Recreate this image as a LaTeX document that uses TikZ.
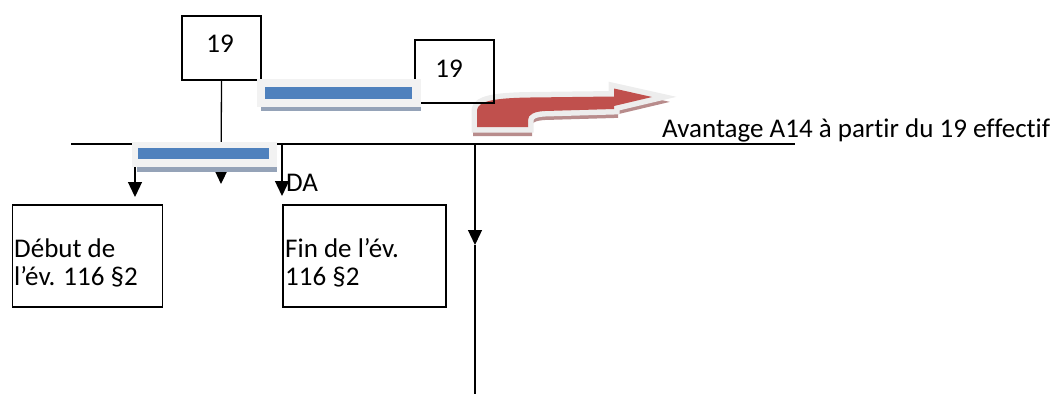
\documentclass[tikz,border=0pt]{standalone}
\usepackage{fontspec}
\setmainfont[Ligatures={NoCommon}]{Carlito}
\usetikzlibrary{arrows.meta}
\definecolor{barblue}{HTML}{4F81BD}
\definecolor{barframe}{HTML}{F2F2F2}
\definecolor{barshadow}{HTML}{95A3B8}
\definecolor{arrred}{HTML}{C0504D}
\definecolor{arrglow}{HTML}{EDEDED}
\definecolor{arrshadow}{HTML}{B88C8C}
\tikzset{
  ln/.style={line width=1.3pt, black},
  arr/.style={ln, -{Triangle[length=15pt,width=14pt]}},
  boxst/.style={draw=black, line width=1.3pt, inner sep=0pt},
  txt/.style={inner sep=0pt, font=\fontsize{27}{29}\selectfont},
}
\begin{document}
\begin{tikzpicture}[x=1pt,y=-1pt]
\useasboundingbox (0,0) rectangle (1064,394);
% main horizontal line
\coordinate (mainL) at (71,144);
\coordinate (mainR) at (795,144);
\draw[ln] (mainL) -- (mainR);

% top box 19 and its connector
\node[boxst, minimum width=79pt, minimum height=64pt] (boxA) at (221.5,48) {};
\node[txt, anchor=base] (boxAt) at (220,52) {19};
\coordinate (midTip) at (221,184);
\draw[arr] (boxA.south) -- (midTip);

% left arrow (under the bar)
\coordinate (leftTop) at (135,150);
\coordinate (leftTip) at (135,197);
\draw[arr] (leftTop) -- (leftTip);

% lower bar
\fill[barshadow] (137,147) rectangle (277,172);
\fill[barframe] (132,142) rectangle (277,167);
\fill[barblue] (138,148) rectangle (269,159);

% right arrow
\coordinate (rightTop) at (282,144);
\coordinate (rightTip) at (282,196);
\draw[arr] (rightTop) -- (rightTip);
\node[txt, anchor=base west] (da) at (286,191) {DA};

% lower boxes
\node[boxst, minimum width=150pt, minimum height=102pt] (boxDeb) at (87.5,256) {};
\node[txt, anchor=base west] (deb1) at (14,257) {Début de};
\node[txt, anchor=base west] (deb2) at (14,285) {l’év. 116 §2};
\node[boxst, minimum width=163pt, minimum height=102pt] (boxFin) at (364.5,256) {};
\node[txt, anchor=base west] (fin1) at (285,257) {Fin de l’év.};
\node[txt, anchor=base west] (fin2) at (285,285) {116 §2};

% long vertical line with arrow
\coordinate (vTop) at (475,144);
\coordinate (vMid) at (475,245);
\coordinate (vBot) at (475,394);
\draw[arr] (vTop) -- (vMid);
\draw[ln] (vMid) -- (vBot);

% red curved arrow: shadow, glow, body
\def\redpath{(477,127) -- (477,110) .. controls (478,101) and (495,98) .. (530,97.5) -- (614,96.5) -- (614,88.5) -- (652,97) -- (614,106) -- (614,109) -- (545,111) .. controls (535,111.5) and (528,114) .. (528,120) -- (528,127) -- cycle}
\begin{scope}[shift={(0,5)}]
\filldraw[arrshadow, line width=8pt, line join=miter] \redpath;
\end{scope}
\filldraw[arrglow, line width=11pt, line join=miter] \redpath;
\fill[arrred] \redpath;

% second box 19
\node[boxst, minimum width=79pt, minimum height=63pt] (boxB) at (454.5,71.5) {};
\node[txt, anchor=base] (boxBt) at (449,77) {19};

% upper bar
\fill[barshadow] (261,84) rectangle (421,111);
\fill[barframe] (257,79) rectangle (421,107);
\fill[barblue] (265,87) rectangle (412,99);

% label
\node[txt, anchor=base west] (adv) at (662,137) {Avantage A14 à partir du 19 effectif};
\end{tikzpicture}
\end{document}
